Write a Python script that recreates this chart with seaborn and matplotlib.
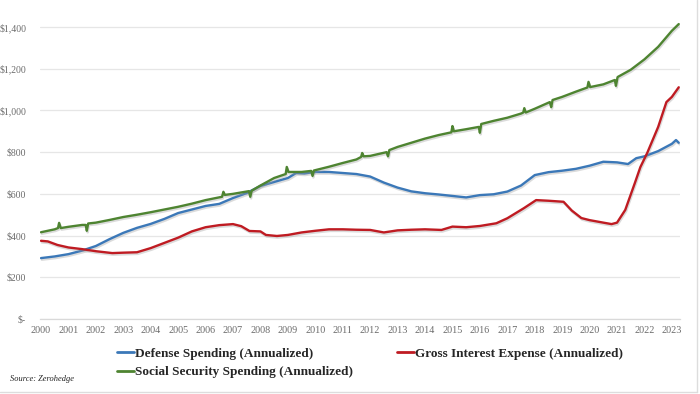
import matplotlib
matplotlib.use("Agg")
import matplotlib.pyplot as plt
import matplotlib.patheffects as pe
from matplotlib.ticker import FuncFormatter, FixedLocator
from matplotlib.lines import Line2D
import seaborn as sns
import pandas as pd

# ---------------- data ----------------
defense_x = [2000.0, 2000.5, 2001.0, 2001.5, 2002.0, 2002.5, 2003.0, 2003.5, 2004.0, 2004.5,
             2005.0, 2005.5, 2006.0, 2006.5, 2007.0, 2007.5, 2008.0, 2008.5, 2009.0, 2009.3,
             2009.6, 2010.0, 2010.5, 2011.0, 2011.5, 2012.0, 2012.5, 2013.0, 2013.5, 2014.0,
             2014.5, 2015.0, 2015.5, 2016.0, 2016.5, 2017.0, 2017.5, 2018.0, 2018.5, 2019.0,
             2019.5, 2020.0, 2020.5, 2021.0, 2021.4, 2021.7, 2022.0, 2022.5, 2023.0, 2023.15, 2023.25]
defense_y = [292, 300, 311, 328, 350, 383, 413, 437, 456, 480,
             508, 525, 542, 552, 580, 604, 638, 657, 676, 700,
             698, 705, 705, 700, 695, 683, 654, 630, 612, 603,
             597, 590, 583, 594, 598, 611, 640, 690, 704, 711,
             720, 735, 754, 751, 743, 771, 780, 805, 840, 858, 845]

interest_x = [2000.0, 2000.25, 2000.6, 2001.0, 2001.5, 2002.0, 2002.6, 2003.0, 2003.5, 2004.0,
              2004.5, 2005.0, 2005.5, 2006.0, 2006.5, 2007.0, 2007.3, 2007.6, 2008.0, 2008.2,
              2008.6, 2009.0, 2009.5, 2010.0, 2010.5, 2011.0, 2011.5, 2012.0, 2012.5, 2013.0,
              2013.5, 2014.0, 2014.6, 2015.0, 2015.5, 2016.0, 2016.6, 2017.0, 2017.6, 2018.05,
              2018.5, 2019.05, 2019.35, 2019.7, 2020.0, 2020.5, 2020.8, 2021.0, 2021.3, 2021.65,
              2021.85, 2022.1, 2022.5, 2022.8, 2023.0, 2023.25]
interest_y = [375, 372, 355, 343, 335, 325, 316, 318, 320, 340,
              365, 390, 420, 440, 450, 455, 445, 422, 420, 403,
              398, 403, 415, 423, 430, 430, 428, 427, 415, 425,
              428, 430, 427, 443, 440, 446, 459, 483, 531, 570,
              567, 562, 520, 484, 474, 462, 455, 462, 523, 652,
              728, 796, 921, 1040, 1065, 1111]

social_x = [2000.0, 2000.5, 2000.62, 2000.66, 2000.72, 2001.0, 2001.5, 2001.63, 2001.67, 2001.72,
            2002.0, 2002.5, 2003.0, 2003.5, 2004.0, 2004.5, 2005.0, 2005.5, 2006.0, 2006.6,
            2006.65, 2006.7, 2007.0, 2007.58, 2007.63, 2007.68, 2008.0, 2008.5, 2008.92, 2008.96,
            2009.02, 2009.5, 2009.85, 2009.9, 2009.95, 2010.5, 2011.0, 2011.5, 2011.67, 2011.71,
            2011.76, 2012.0, 2012.6, 2012.65, 2012.7, 2013.0, 2013.5, 2014.0, 2014.5, 2014.96,
            2015.0, 2015.05, 2015.5, 2015.96, 2016.0, 2016.05, 2016.5, 2017.0, 2017.5, 2017.58,
            2017.62, 2017.67, 2018.0, 2018.55, 2018.6, 2018.65, 2019.0, 2019.5, 2019.92, 2019.96,
            2020.02, 2020.5, 2020.92, 2020.96, 2021.02, 2021.5, 2022.0, 2022.5, 2023.0, 2023.25]
social_y = [416, 430, 436, 461, 436, 442, 451, 451, 423, 458,
            462, 475, 489, 500, 512, 525, 538, 553, 570, 586,
            610, 595, 600, 613, 586, 615, 640, 676, 695, 729,
            705, 705, 710, 686, 712, 730, 748, 765, 777, 796,
            780, 782, 800, 780, 810, 825, 845, 865, 882, 895,
            925, 900, 910, 921, 893, 935, 950, 965, 985, 990,
            1011, 990, 1008, 1040, 1016, 1050, 1065, 1090, 1110, 1137,
            1112, 1125, 1146, 1118, 1160, 1195, 1245, 1305, 1382, 1414]

series_names = ["Defense Spending (Annualized)",
                "Social Security Spending (Annualized)",
                "Gross Interest Expense (Annualized)"]
series_colors = ["#3B78B8", "#4E8431", "#BF1B22"]

year_ticks = list(range(2000, 2024))
y_ticks = [0, 200, 400, 600, 800, 1000, 1200, 1400]

# ---------------- build long-form table ----------------
frames = []
for name, xs, ys in [(series_names[0], defense_x, defense_y),
                     (series_names[1], social_x, social_y),
                     (series_names[2], interest_x, interest_y)]:
    frames.append(pd.DataFrame({"date": xs, "value": ys, "series": name}))
df = pd.concat(frames, ignore_index=True)

# ---------------- plot ----------------
sns.set_style("white")
plt.rcParams["font.family"] = ["Liberation Serif", "DejaVu Serif"]

fig = plt.figure(figsize=(7.0, 3.94), dpi=100)
ax = fig.add_axes([40 / 700, 1 - 319 / 394, 640 / 700, (319 - 10) / 394])

sns.lineplot(data=df, x="date", y="value", hue="series", hue_order=series_names,
             palette=dict(zip(series_names, series_colors)), sort=False,
             linewidth=1.7, ax=ax, legend=False, estimator=None)

for line in ax.get_lines():
    line.set_path_effects([pe.SimpleLineShadow(offset=(0.6, -1.2), shadow_color="#9a9a9a", alpha=0.35),
                           pe.Normal()])

ax.set_xlim(2000 - 1 / 27.43, 2000 + 640 / 27.43 - 1 / 27.43)
ax.set_ylim(0, (319 - 10) * 1400 / 292)

ax.yaxis.set_major_locator(FixedLocator(y_ticks))
ax.yaxis.set_major_formatter(FuncFormatter(lambda v, p: "$-" if v == 0 else "${:,.0f}".format(v)))
ax.xaxis.set_major_locator(FixedLocator(year_ticks))
ax.xaxis.set_major_formatter(FuncFormatter(lambda v, p: str(int(round(v)))))

ax.grid(axis="y", color="#e6e6e6", linewidth=0.9)
ax.grid(axis="x", visible=False)
for s in ["top", "right", "left"]:
    ax.spines[s].set_visible(False)
ax.spines["bottom"].set_color("#d9d9d9")
ax.spines["bottom"].set_linewidth(0.9)

ax.tick_params(axis="y", length=0, labelsize=7.0, labelcolor="#6b6b6b", pad=10)
ax.tick_params(axis="x", length=0, labelsize=7.3, labelcolor="#6b6b6b", pad=5)
ax.set_xlabel("")
ax.set_ylabel("")

# legend (two columns, below the plot)
handles = [Line2D([0], [0], color=c, lw=2) for c in series_colors]
fig.legend(handles, series_names, loc="center", ncol=2,
           bbox_to_anchor=(370 / 700, 1 - 363 / 394), frameon=False,
           prop={"family": "Liberation Serif", "weight": "bold", "size": 9.5},
           handlelength=1.3, handletextpad=0.1, columnspacing=3.3, labelspacing=0.45)

fig.text(10 / 700, 1 - 379 / 394, "Source: Zerohedge", fontsize=6, style="italic",
         color="#222222", ha="left", va="center")

# faint frame at right and bottom edges
fig.add_artist(Line2D([697 / 700, 697 / 700], [1 - 392 / 394, 1], color="#dddddd", lw=1))
fig.add_artist(Line2D([0, 697 / 700], [1 - 392 / 394, 1 - 392 / 394], color="#dddddd", lw=1))

fig.savefig("out.png", dpi=100)
